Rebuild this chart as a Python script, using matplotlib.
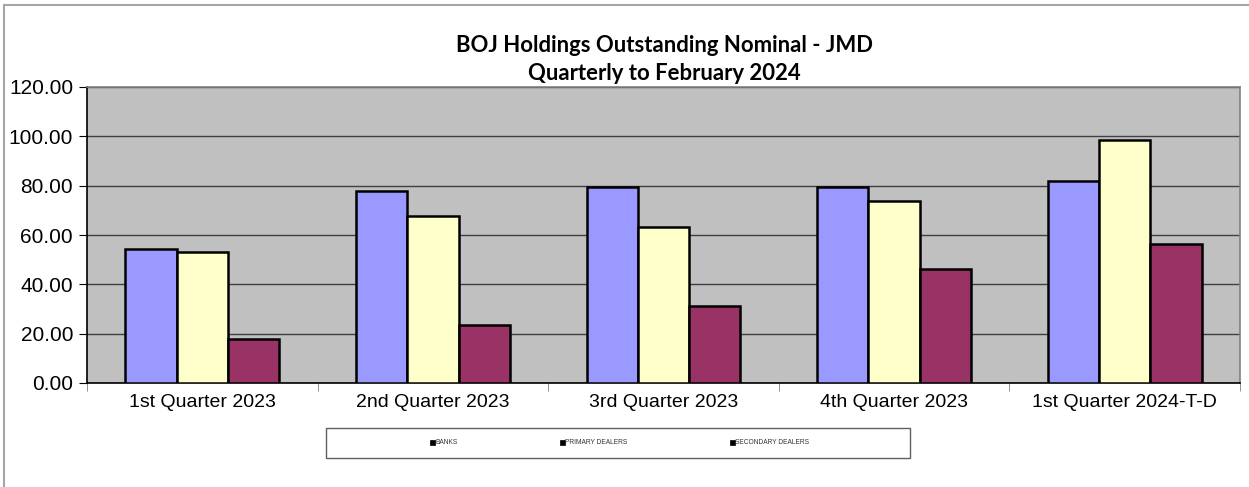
import matplotlib
matplotlib.use("Agg")
import matplotlib.pyplot as plt
import numpy as np
from matplotlib.lines import Line2D
from matplotlib.patches import Rectangle

categories = ["1st Quarter 2023", "2nd Quarter 2023", "3rd Quarter 2023",
              "4th Quarter 2023", "1st Quarter 2024-T-D"]
banks = [54.2, 77.7, 79.5, 79.3, 81.8]
primary = [53.2, 67.8, 63.4, 73.9, 98.4]
secondary = [17.8, 23.5, 31.4, 46.4, 56.4]
series_names = ["BANKS", "PRIMARY DEALERS", "SECONDARY DEALERS"]
yticks = [0, 20, 40, 60, 80, 100, 120]

colors = ["#9999FF", "#FFFFCC", "#993366"]

fig = plt.figure(figsize=(12.49, 4.87), dpi=100)
fig.patch.set_facecolor("white")

# outer chart-area border (top and left visible)
fig.add_artist(Line2D([4/1249, 4/1249], [0, 1-5/487], transform=fig.transFigure,
                      color="#a6a6a6", lw=1.5))
fig.add_artist(Line2D([4/1249, 1], [1-5/487, 1-5/487], transform=fig.transFigure,
                      color="#a6a6a6", lw=1.5))

ax = fig.add_axes([87/1249, 1-383/487, (1240-87)/1249, (383-87)/487])
ax.set_facecolor("#C0C0C0")

x = np.arange(len(categories))
w = 0.2222  # gap width 150%
data = [banks, primary, secondary]
for i, (vals, c) in enumerate(zip(data, colors)):
    ax.bar(x + (i-1)*w, vals, width=w, color=c, edgecolor="black", linewidth=1.8,
           zorder=3, label=series_names[i])

ax.set_xlim(-0.5, len(categories)-0.5)
ax.set_ylim(0, 120)
ax.set_yticks(yticks)
ax.set_yticklabels([f"{v:.2f}" for v in yticks], fontsize=15, family="Liberation Sans")
ax.yaxis.grid(True, color="#404040", linewidth=1.0, zorder=1)
ax.set_axisbelow(True)

ax.set_xticks(x)
ax.set_xticklabels(categories, fontsize=14, family="Liberation Sans")
ax.set_xticks(np.arange(len(categories)+1) - 0.5, minor=True)
ax.tick_params(axis="x", which="major", length=0, pad=8)
ax.tick_params(axis="x", which="minor", length=6, color="#808080", direction="out")
ax.tick_params(axis="y", length=6, color="black", direction="out", pad=4)

for s in ["top", "right"]:
    ax.spines[s].set_color("#808080")
    ax.spines[s].set_linewidth(1.2)
ax.spines["left"].set_color("black")
ax.spines["bottom"].set_color("black")
ax.spines["left"].set_linewidth(1.2)
ax.spines["bottom"].set_linewidth(1.2)

fig.text(664/1249, 1-45/487, "BOJ Holdings Outstanding Nominal - JMD",
         ha="center", va="center", fontsize=15.9, fontweight="bold", family="Lato")
fig.text(664/1249, 1-73/487, "Quarterly to February 2024",
         ha="center", va="center", fontsize=15.9, fontweight="bold", family="Lato")

# legend
lx0, lx1, ly0, ly1 = 326/1249, 910/1249, 1-458/487, 1-428/487
fig.add_artist(Rectangle((lx0, ly0), lx1-lx0, ly1-ly0, transform=fig.transFigure,
                         facecolor="white", edgecolor="#606060", lw=1.0))
leg_x = [431, 561, 731]
for px, name, c in zip(leg_x, series_names, colors):
    fig.add_artist(Rectangle(((px-1)/1249, 1-445/487), 5/1249, 5/487,
                             transform=fig.transFigure, facecolor="black",
                             edgecolor="black", lw=0.5))
    fig.text((px+4)/1249, 1-442.5/487, name, ha="left", va="center",
             fontsize=4.8, family="Liberation Sans", color="#333333")

fig.savefig("out.png", dpi=100)
